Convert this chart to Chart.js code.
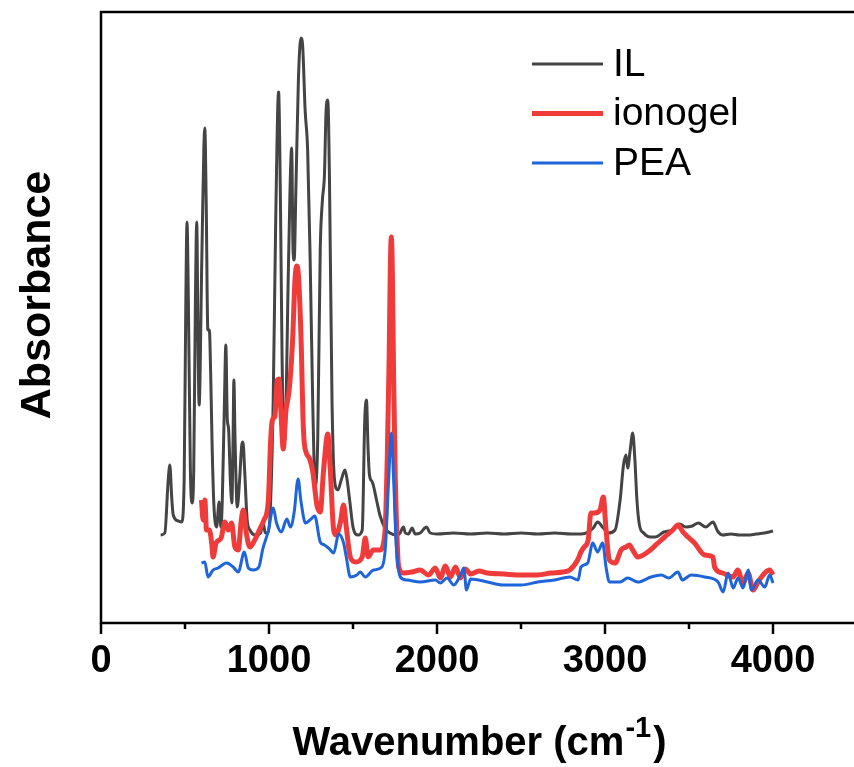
<!DOCTYPE html>
<html>
<head>
<meta charset="utf-8">
<title>FTIR spectra</title>
<script src="https://cdn.jsdelivr.net/npm/chart.js@4.4.1/dist/chart.umd.min.js"></script>
<style>
  html, body { margin: 0; padding: 0; background: #fff; overflow: hidden; }
  #wrap { width: 860px; height: 767px; }
</style>
</head>
<body>
<div id="wrap"><canvas id="ftir" width="860" height="767"></canvas></div>
<script>
// wavenumber (cm-1) and absorbance (a.u.)
var ilWn = [355,380,400,410,420,430,460,480,495,505,512,520,532,542,552,562,570,577,584,600,612,618,626,636,645,653,662,672,688,703,714,722,735,743,752,759,770,779,786,791,798,811,825,838,845,855,870,886,920,950,964,978,995,1010,1025,1040,1057,1068,1078,1090,1100,1112,1125,1135,1143,1150,1160,1175,1190,1200,1215,1230,1245,1260,1275,1290,1305,1318,1330,1340,1350,1360,1375,1390,1410,1430,1452,1465,1480,1500,1530,1555,1570,1580,1590,1598,1615,1640,1660,1690,1720,1760,1780,1800,1812,1830,1852,1870,1900,1937,1960,2000,2100,2200,2300,2400,2500,2600,2700,2800,2860,2900,2930,2956,2990,3020,3060,3090,3110,3125,3135,3150,3165,3178,3190,3205,3230,3270,3300,3350,3400,3445,3480,3520,3555,3600,3643,3670,3700,3750,3800,3850,3900,3950,4000];
var ilAbs = [0.176,0.180,0.286,0.316,0.256,0.216,0.204,0.202,0.286,0.646,0.802,0.646,0.306,0.240,0.306,0.646,0.802,0.586,0.436,0.726,0.946,0.990,0.846,0.586,0.586,0.496,0.346,0.236,0.192,0.242,0.192,0.246,0.446,0.556,0.406,0.390,0.286,0.240,0.366,0.486,0.366,0.232,0.286,0.356,0.362,0.306,0.206,0.186,0.176,0.180,0.202,0.180,0.182,0.246,0.446,0.806,1.062,0.846,0.526,0.362,0.406,0.646,0.866,0.950,0.746,0.726,0.866,1.086,1.170,1.156,1.026,0.946,0.726,0.446,0.272,0.366,0.746,0.846,0.896,1.026,1.046,0.886,0.446,0.286,0.266,0.286,0.306,0.286,0.246,0.192,0.176,0.186,0.406,0.446,0.346,0.296,0.282,0.246,0.216,0.190,0.180,0.176,0.180,0.192,0.180,0.178,0.190,0.178,0.180,0.192,0.180,0.178,0.180,0.178,0.180,0.178,0.180,0.178,0.180,0.178,0.178,0.182,0.190,0.202,0.190,0.180,0.186,0.246,0.316,0.336,0.310,0.346,0.380,0.326,0.246,0.196,0.180,0.172,0.172,0.182,0.186,0.198,0.192,0.194,0.200,0.192,0.202,0.184,0.176,0.178,0.176,0.176,0.178,0.180,0.184];

var gelWn = [598,608,618,628,645,660,667,685,715,737,757,777,797,817,835,847,865,886,915,940,970,996,1010,1020,1035,1050,1060,1070,1085,1100,1120,1140,1155,1165,1175,1190,1205,1222,1240,1260,1285,1305,1325,1350,1365,1385,1400,1424,1444,1460,1484,1515,1555,1573,1590,1620,1660,1690,1705,1715,1722,1728,1734,1742,1752,1765,1772,1800,1850,1900,1950,1990,2020,2050,2080,2110,2140,2170,2200,2250,2300,2400,2500,2600,2678,2750,2790,2837,2857,2876,2900,2916,2940,2970,2990,3005,3026,3060,3096,3125,3145,3165,3195,3255,3315,3355,3404,3434,3464,3494,3533,3593,3643,3652,3700,3763,3790,3822,3852,3882,3911,3951,3980,4000];
var gelAbs = [0.246,0.206,0.246,0.186,0.186,0.156,0.132,0.160,0.170,0.202,0.186,0.200,0.152,0.146,0.206,0.226,0.180,0.152,0.166,0.184,0.206,0.244,0.366,0.406,0.414,0.486,0.488,0.430,0.348,0.422,0.466,0.562,0.688,0.714,0.696,0.578,0.386,0.340,0.330,0.304,0.236,0.222,0.306,0.378,0.306,0.186,0.176,0.200,0.236,0.192,0.132,0.122,0.132,0.170,0.132,0.146,0.146,0.180,0.346,0.526,0.706,0.772,0.706,0.486,0.286,0.146,0.112,0.100,0.102,0.106,0.096,0.110,0.090,0.114,0.092,0.112,0.090,0.108,0.098,0.104,0.100,0.098,0.096,0.096,0.100,0.102,0.106,0.126,0.142,0.152,0.166,0.220,0.220,0.226,0.252,0.192,0.126,0.120,0.146,0.152,0.156,0.146,0.132,0.142,0.160,0.172,0.186,0.196,0.182,0.172,0.160,0.136,0.132,0.112,0.100,0.092,0.106,0.080,0.100,0.066,0.082,0.100,0.106,0.096];

var peaWn = [598,618,637,667,697,747,787,817,853,877,907,940,963,996,1025,1045,1073,1106,1128,1150,1173,1190,1217,1250,1272,1305,1330,1360,1385,1415,1444,1460,1484,1523,1543,1573,1622,1672,1693,1712,1728,1742,1758,1782,1822,1900,1990,2020,2060,2100,2140,2160,2175,2200,2300,2390,2500,2600,2700,2790,2840,2857,2897,2927,2956,2986,3006,3026,3090,3135,3195,3275,3335,3380,3434,3460,3513,3593,3673,3703,3733,3763,3792,3822,3852,3871,3911,3951,3980,4000];
var peaAbs = [0.120,0.122,0.092,0.106,0.110,0.120,0.112,0.102,0.142,0.110,0.106,0.112,0.148,0.184,0.230,0.200,0.182,0.208,0.192,0.222,0.288,0.244,0.200,0.208,0.214,0.162,0.156,0.148,0.140,0.178,0.160,0.132,0.092,0.096,0.102,0.092,0.106,0.112,0.152,0.286,0.380,0.286,0.152,0.092,0.086,0.082,0.086,0.080,0.090,0.076,0.096,0.110,0.066,0.088,0.082,0.076,0.076,0.082,0.086,0.092,0.086,0.112,0.120,0.160,0.142,0.160,0.112,0.082,0.082,0.090,0.082,0.092,0.096,0.090,0.102,0.086,0.096,0.092,0.082,0.062,0.100,0.070,0.090,0.070,0.106,0.066,0.086,0.072,0.096,0.080];

var xTicks = [0, 1000, 2000, 3000, 4000];

function pairs(xs, ys) {
  return xs.map(function (x, i) { return { x: x, y: ys[i] }; });
}

var FONT = '"Liberation Sans", Arial, sans-serif';

// box around the plot, with long ticks at labels and short ones in between
var framePlugin = {
  id: "frame",
  afterDraw: function (chart) {
    var ctx = chart.ctx, a = chart.chartArea, xs = chart.scales.x;
    ctx.save();
    ctx.strokeStyle = "#000";
    ctx.lineWidth = 2.5;
    ctx.strokeRect(a.left, a.top, a.right - a.left, a.bottom - a.top);
    for (var v = 0; v <= 4500; v += 500) {
      var px = xs.getPixelForValue(v);
      var len = xTicks.indexOf(v) >= 0 ? 11 : 6;
      ctx.beginPath();
      ctx.moveTo(px, a.bottom);
      ctx.lineTo(px, a.bottom + len);
      ctx.stroke();
    }
    ctx.restore();
  }
};

// axis titles (x title needs a superscript)
var titlePlugin = {
  id: "axisTitles",
  afterDraw: function (chart) {
    var ctx = chart.ctx, a = chart.chartArea;
    ctx.save();
    ctx.fillStyle = "#000";
    ctx.textBaseline = "alphabetic";
    var big = "bold 40px " + FONT, small = "bold 29px " + FONT;
    ctx.font = big;
    var t1 = "Wavenumber (cm", t3 = ")";
    var w1 = ctx.measureText(t1).width, w3 = ctx.measureText(t3).width;
    ctx.font = small;
    var t2 = "-1", w2 = ctx.measureText(t2).width;
    var x0 = 478 - (w1 + w2 + w3) / 2, y0 = 755;
    ctx.font = big;
    ctx.fillText(t1, x0, y0);
    ctx.font = small;
    ctx.fillText(t2, x0 + w1 + 1, y0 - 18);
    ctx.font = big;
    ctx.fillText(t3, x0 + w1 + w2 + 3, y0);

    ctx.translate(38, 295);
    ctx.rotate(-Math.PI / 2);
    ctx.textAlign = "center";
    ctx.textBaseline = "middle";
    ctx.font = "bold 43px " + FONT;
    ctx.fillText("Absorbance", 0, 0);
    ctx.restore();
  }
};

var legendPlugin = {
  id: "lineLegend",
  afterDraw: function (chart) {
    var ctx = chart.ctx;
    ctx.save();
    ctx.font = "39px " + FONT;
    ctx.textBaseline = "middle";
    chart.data.datasets.forEach(function (ds, i) {
      var y = 64 + i * 49.5;
      ctx.strokeStyle = ds.borderColor;
      ctx.lineWidth = ds.borderWidth;
      ctx.beginPath();
      ctx.moveTo(532, y);
      ctx.lineTo(603, y);
      ctx.stroke();
      ctx.fillStyle = "#000";
      ctx.fillText(ds.label, 613, y + 1);
    });
    ctx.restore();
  }
};

var ctx = document.getElementById("ftir");
var spectra = new Chart(ctx, {
  type: "line",
  data: {
    datasets: [
      { label: "IL", data: pairs(ilWn, ilAbs), borderColor: "#444444", borderWidth: 3, order: 3 },
      { label: "ionogel", data: pairs(gelWn, gelAbs), borderColor: "#f03b3b", borderWidth: 5, order: 2 },
      { label: "PEA", data: pairs(peaWn, peaAbs), borderColor: "#1f64d8", borderWidth: 3, order: 1 }
    ]
  },
  options: {
    responsive: false,
    animation: false,
    layout: { autoPadding: false, padding: { top: 12, right: 3, left: 0, bottom: 0 } },
    elements: {
      point: { radius: 0 },
      line: { cubicInterpolationMode: "monotone", fill: false }
    },
    plugins: {
      legend: { display: false },
      tooltip: { enabled: false }
    },
    scales: {
      x: {
        type: "linear",
        min: 0,
        max: 4500,
        grid: { display: false, drawTicks: false },
        border: { display: false },
        afterFit: function (s) { s.height = 144; s.paddingLeft = 0; s.paddingRight = 0; },
        ticks: {
          stepSize: 500,
          padding: 16,
          color: "#000",
          font: { family: FONT, size: 38, weight: "bold" },
          maxRotation: 0,
          autoSkip: false,
          callback: function (v) { return xTicks.indexOf(v) >= 0 ? String(v) : ""; }
        }
      },
      y: {
        min: 0,
        max: 1.222,
        grid: { display: false, drawTicks: false },
        border: { display: false },
        ticks: { display: false },
        afterFit: function (s) { s.width = 101; }
      }
    }
  },
  plugins: [framePlugin, titlePlugin, legendPlugin]
});
</script>
</body>
</html>
